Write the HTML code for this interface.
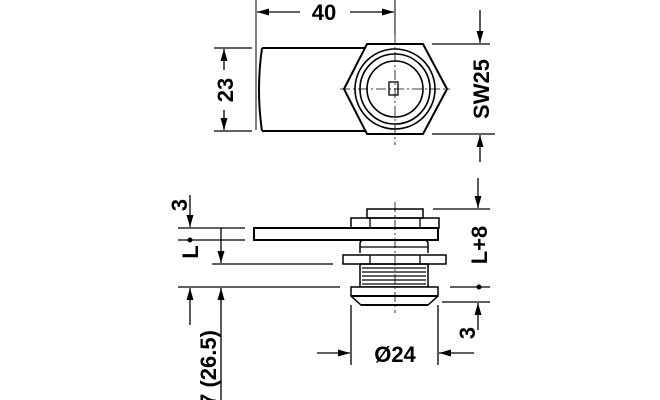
<!DOCTYPE html>
<html><head><style>body{margin:0;background:#fff}svg{display:block}</style></head><body>
<svg width="660" height="400" viewBox="0 0 660 400" xmlns="http://www.w3.org/2000/svg">
<defs><marker id="a" viewBox="0 0 10 10" refX="10" refY="5" markerWidth="12" markerHeight="10" orient="auto-start-reverse" markerUnits="userSpaceOnUse" preserveAspectRatio="none"><path d="M0,1.5 L10,5 L0,8.5 Z" fill="#000"/></marker></defs>
<g stroke="#000" fill="none" stroke-width="1.3">
<path d="M262,48 L367,48 M262,131 L367,131 M262,48 Q256,90 262,131" stroke-width="2"/>
<polygon points="367,44 423,44 447,89 423,134 367,134 344,89" stroke-width="2" fill="#fff"/>
<circle cx="395" cy="89" r="40" fill="#fff" stroke-width="1.6"/>
<circle cx="395" cy="89" r="35" stroke-width="1.6"/>
<circle cx="395" cy="89" r="28" stroke-width="1.6"/>
<rect x="389" y="82" width="9" height="13" fill="#fff"/>
<path d="M395,34 V145 M340,89 H450" stroke-width="0.8" stroke-dasharray="10,3,2,3"/>
<path d="M256,0 V130 M395,0 V35" stroke-width="1"/>
<line x1="300" y1="12" x2="257" y2="12" marker-end="url(#a)"/>
<line x1="350" y1="12" x2="394" y2="12" marker-end="url(#a)"/>
<path d="M214,48 H252 M214,131 H252 M432,44 H490 M432,134 H495"/>
<line x1="224" y1="70" x2="224" y2="49" marker-end="url(#a)"/>
<line x1="224" y1="110" x2="224" y2="130" marker-end="url(#a)"/>
<line x1="480" y1="10" x2="480" y2="43" marker-end="url(#a)"/>
<line x1="480" y1="162" x2="480" y2="135" marker-end="url(#a)"/>
<rect x="254" y="228" width="184" height="12" stroke-width="2" fill="#fff"/>
<rect x="367" y="209" width="56" height="9" stroke-width="1.5"/>
<rect x="351" y="218" width="88" height="10" stroke-width="1.5"/>
<path d="M370,218 V228 M420,218 V228"/>
<path d="M360,253 V244 Q360,240 364,240 H424 Q428,240 428,244 V253" stroke-width="1.5"/>
<path d="M360,247 H428"/>
<rect x="343" y="255" width="103" height="9" stroke-width="1.5"/>
<path d="M370,255 V264 M420,255 V264"/>
<rect x="360" y="264" width="68" height="23" stroke-width="1.5"/>
<path d="M362,268 H426 M362,272 H426 M362,276 H426 M362,280 H426 M362,284 H426"/>
<path d="M351,287 H438 V296 L428,305 H361 L351,296 Z" stroke-width="1.5" fill="#fff"/>
<path d="M351,296 H438 M361,305 H428" stroke-width="2"/>
<path d="M395,202 V313" stroke-width="0.8" stroke-dasharray="10,3,2,3"/>
<path d="M178,228 H245 M178,240 H245 M212,264 H333 M178,287 H340"/>
<line x1="190" y1="195" x2="190" y2="227" marker-end="url(#a)"/>
<line x1="221" y1="228" x2="221" y2="263" marker-end="url(#a)"/>
<line x1="190" y1="325" x2="190" y2="288" marker-end="url(#a)"/>
<line x1="221" y1="400" x2="221" y2="288" marker-end="url(#a)"/>
<path d="M433,209 H490 M450,287 H490 M442,302 H490"/>
<line x1="478" y1="178" x2="478" y2="208" marker-end="url(#a)"/>
<line x1="478" y1="330" x2="478" y2="303" marker-end="url(#a)"/>
<path d="M351,305 V365 M438,305 V365"/>
<line x1="317" y1="353" x2="350" y2="353" marker-end="url(#a)"/>
<line x1="474" y1="353" x2="439" y2="353" marker-end="url(#a)"/>
</g>
<circle cx="190" cy="240" r="2.5"/>
<circle cx="479" cy="287" r="2.5"/>
<g font-family="Liberation Sans, sans-serif" font-weight="bold" font-size="22" fill="#000" text-anchor="middle">
<text x="324" y="20">40</text>
<text x="395" y="362">Ø24</text>
<text transform="translate(233,90) rotate(-90)">23</text>
<text transform="translate(489,89) rotate(-90)">SW25</text>
<text transform="translate(487,245) rotate(-90)">L+8</text>
<text transform="translate(187,205) rotate(-90)">3</text>
<text transform="translate(475,333) rotate(-90)">3</text>
<text transform="translate(198,252) rotate(-90)">L</text>
<text transform="translate(216,368) rotate(-90)">7 (26.5)</text>
</g>
</svg>
</body></html>
